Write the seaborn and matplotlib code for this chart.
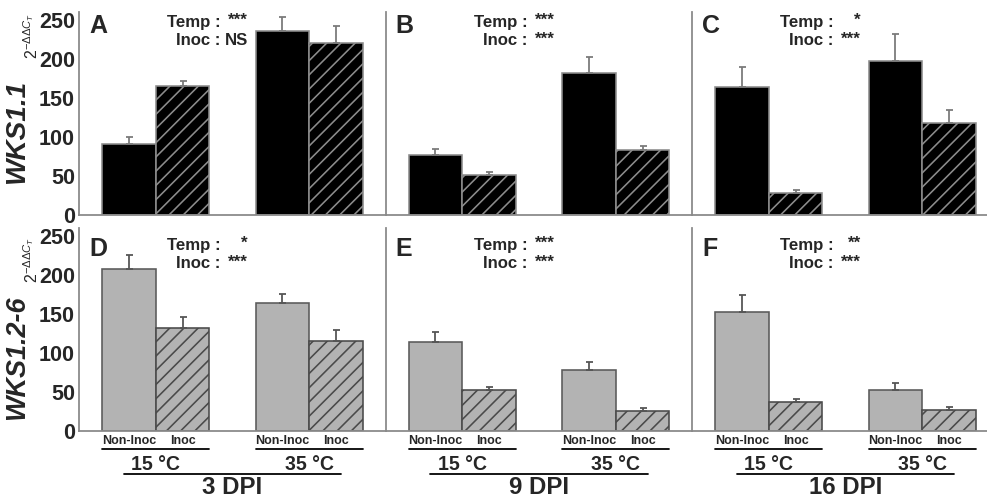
import numpy as np
import pandas as pd
import seaborn as sns
import matplotlib.pyplot as plt

# values: order is 15C Non-Inoc, 15C Inoc, 35C Non-Inoc, 35C Inoc
temps = ['15 °C', '35 °C']
treatments = ['Non-Inoc', 'Inoc']
dpi_labels = ['3 DPI', '9 DPI', '16 DPI']
genes = ['WKS1.1', 'WKS1.2-6']
letters = [['A', 'B', 'C'], ['D', 'E', 'F']]

wks11_mean = [[91, 165, 236, 220], [77, 51, 182, 83], [164, 28, 197, 118]]
wks11_err = [[9, 7, 17, 22], [7, 3.5, 21, 6], [26, 3.5, 35, 17]]
wks126_mean = [[207, 132, 164, 115], [114, 53, 78, 26], [153, 37, 52, 27]]
wks126_err = [[18, 14, 12, 14], [13, 3.5, 11, 3.5], [21, 4, 9, 4]]

temp_sig = [['***', '***', '*'], ['*', '***', '**']]
inoc_sig = [['NS', '***', '***'], ['***', '***', '***']]

DPI = 128
W, H = 987, 500


def pt(px):
    # pixel size -> points at this dpi
    return px * 72 / DPI


sns.set_style('white')
plt.rcParams['font.family'] = ['Liberation Sans', 'DejaVu Sans']
plt.rcParams['mathtext.fontset'] = 'custom'
plt.rcParams['mathtext.rm'] = 'Liberation Sans'
plt.rcParams['mathtext.it'] = 'Liberation Sans:italic'
plt.rcParams['mathtext.bf'] = 'Liberation Sans:bold'
plt.rcParams['hatch.linewidth'] = 0.9

fig = plt.figure(figsize=(W / DPI, H / DPI), dpi=DPI)

rows = [
    dict(means=wks11_mean, errs=wks11_err, face='black', hatch='#8c8c8c',
         edge='#8c8c8c', errc='#7a7a7a', base=215, shift=0),
    dict(means=wks126_mean, errs=wks126_err, face='#b3b3b3', hatch='#4a4a4a',
         edge='#5a5a5a', errc='#555555', base=431, shift=223),
]
col_left = [79, 385.5, 692]
ax_w, ax_h = 307, 203

for r, row in enumerate(rows):
    base = row['base']

    def ay(y_img):
        return (base - y_img) / ax_h

    for c in range(3):
        ax = fig.add_axes([col_left[c] / W, (H - base) / H, ax_w / W, ax_h / H])
        ax.patch.set_alpha(0)
        df = pd.DataFrame({'temp': np.repeat(temps, 2),
                           'trt': treatments * 2,
                           'val': row['means'][c]})
        sns.barplot(data=df, x='temp', y='val', hue='trt', order=temps,
                    hue_order=treatments, palette=[row['face'], row['face']],
                    width=0.7, saturation=1, errorbar=None, legend=False,
                    linewidth=0.9, edgecolor=row['edge'], ax=ax)
        bar_conts = list(ax.containers)

        # hatching + one-sided error bars
        for j, cont in enumerate(bar_conts):
            for i, bar in enumerate(cont):
                k = 2 * i + j
                if j == 1:
                    bar.set_hatch('///')
                    bar.set_edgecolor(row['hatch'])
                    if hasattr(bar, 'set_hatchcolor'):
                        bar.set_hatchcolor(row['hatch'])
                xc = bar.get_x() + bar.get_width() / 2
                ax.errorbar(xc, bar.get_height(), yerr=[[0], [row['errs'][c][k]]],
                            fmt='none', ecolor=row['errc'], elinewidth=1.0,
                            capsize=pt(3.5), capthick=1.0, zorder=1)

        ax.set_xlim(-0.5, 1.5)
        ax.set_ylim(0, 260)
        ax.set_yticks(range(0, 251, 50))
        ax.set_xlabel('')
        ax.set_ylabel('')
        sns.despine(ax=ax)
        for s in ['left', 'bottom']:
            ax.spines[s].set_color('#8a8a8a')
            ax.spines[s].set_linewidth(1.0)
        ax.tick_params(axis='y', direction='in', length=pt(4), color='#8a8a8a',
                       labelsize=pt(21.5), pad=pt(4))
        for lab in ax.get_yticklabels():
            lab.set_fontweight('bold')
        if c > 0:
            ax.tick_params(labelleft=False)

        # panel letter and significance text
        ax.text(10 / ax_w, ay(33 + row['shift']), letters[r][c], transform=ax.transAxes,
                fontsize=pt(25), fontweight='bold', va='baseline', ha='left')
        ax.text(0.462, ay(27 + row['shift']), 'Temp :', transform=ax.transAxes,
                fontsize=pt(16.7), fontweight='bold', va='baseline', ha='right')
        ax.text(0.462, ay(45 + row['shift']), 'Inoc :', transform=ax.transAxes,
                fontsize=pt(16.7), fontweight='bold', va='baseline', ha='right')
        ax.text(0.55, ay(25 + row['shift']), temp_sig[r][c], transform=ax.transAxes,
                fontsize=pt(17), fontweight='bold', va='baseline', ha='right')
        s = inoc_sig[r][c]
        if s == 'NS':
            ax.text(0.55, ay(45 + row['shift']), s, transform=ax.transAxes,
                    fontsize=pt(16.7), fontweight='bold', va='baseline', ha='right')
        else:
            ax.text(0.55, ay(44 + row['shift']), s, transform=ax.transAxes,
                    fontsize=pt(17), fontweight='bold', va='baseline', ha='right')

        bars = sorted([b for cont in bar_conts for b in cont], key=lambda b: b.get_x())
        if r == 0:
            ax.set_xticks([])
        else:
            centers = [b.get_x() + b.get_width() / 2 for b in bars]
            ax.set_xticks(centers, treatments * 2)
            ax.tick_params(axis='x', length=0, pad=pt(4), labelsize=pt(12.5))
            for lab in ax.get_xticklabels():
                lab.set_fontweight('bold')
            tr = ax.get_xaxis_transform()
            for g in range(2):
                x0 = bars[2 * g].get_x()
                x1 = bars[2 * g + 1].get_x() + bars[2 * g + 1].get_width()
                ax.plot([x0, x1], [ay(449)] * 2, transform=tr, color='black',
                        lw=1.0, clip_on=False)
                ax.text((x0 + x1) / 2, ay(470), temps[g], transform=tr,
                        fontsize=pt(19.5), fontweight='bold', ha='center', va='baseline')
            ax.plot([-0.21, 1.21], [ay(474)] * 2, transform=tr, color='black',
                    lw=1.0, clip_on=False)
            ax.text(0.5, ay(494), dpi_labels[c], transform=tr, fontsize=pt(24),
                    fontweight='bold', ha='center', va='baseline')

# y labels
fig.text(17 / W, 1 - 131 / H, genes[0], rotation=90, ha='center', va='center',
         fontsize=pt(28), fontweight='bold', fontstyle='italic')
fig.text(32 / W, 1 - 36 / H, r'$2^{-\Delta\Delta C_T}$', rotation=90, ha='center',
         va='center', fontsize=pt(16))
fig.text(17 / W, 1 - 358 / H, genes[1], rotation=90, ha='center', va='center',
         fontsize=pt(27), fontweight='bold', fontstyle='italic')
fig.text(32 / W, 1 - 260 / H, r'$2^{-\Delta\Delta C_T}$', rotation=90, ha='center',
         va='center', fontsize=pt(16))

fig.savefig('out.png', dpi=DPI)
